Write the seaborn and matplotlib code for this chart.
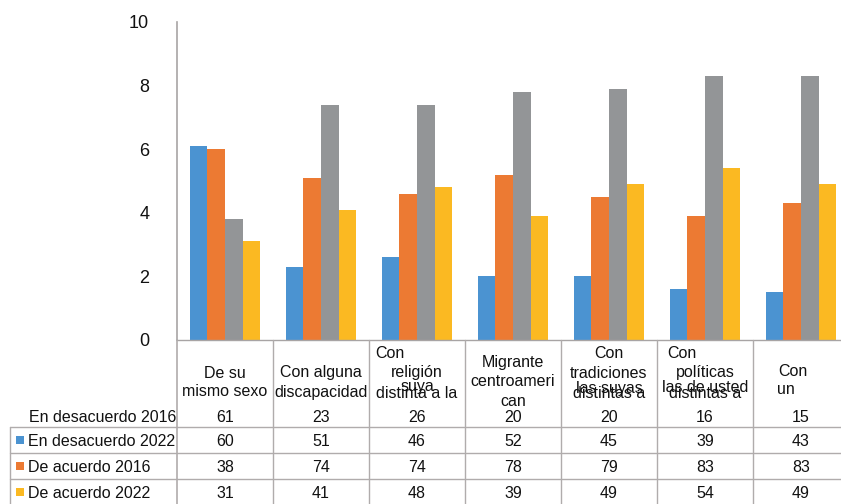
import matplotlib
matplotlib.use("Agg")
import matplotlib.pyplot as plt
import seaborn as sns
import pandas as pd

sns.set_theme(style="white")
plt.rcParams['font.family'] = ['Liberation Sans', 'DejaVu Sans']

categories = ["De su mismo sexo", "Con alguna discapacidad", "Con religión distinta a la suya",
              "Migrante centroamericano", "Con tradiciones distintas a las suyas",
              "Con políticas distintas a las de usted", "Con un"]
series = ["En desacuerdo 2016", "En desacuerdo 2022", "De acuerdo 2016", "De acuerdo 2022"]
en_desacuerdo_2016 = [61, 23, 26, 20, 20, 16, 15]
en_desacuerdo_2022 = [60, 51, 46, 52, 45, 39, 43]
de_acuerdo_2016 = [38, 74, 74, 78, 79, 83, 83]
de_acuerdo_2022 = [31, 41, 48, 39, 49, 54, 49]
yticks = [0, 2, 4, 6, 8, 10]

colors = ["#4b93d1", "#ec7a33", "#939597", "#fbb922"]

values = [en_desacuerdo_2016, en_desacuerdo_2022, de_acuerdo_2016, de_acuerdo_2022]
rows = []
for s, vals in zip(series, values):
    for c, v in zip(categories, vals):
        rows.append({"cat": c, "serie": s, "val": v / 10})
df = pd.DataFrame(rows)

W, H = 841, 504
fig = plt.figure(figsize=(W / 100, H / 100), dpi=100)
x0, x1, y0, y1 = 177, 849, 340, 22
ax = fig.add_axes([x0 / W, 1 - y0 / H, (x1 - x0) / W, (y0 - y1) / H])
sns.barplot(data=df, x="cat", y="val", hue="serie", palette=colors, width=0.73,
            saturation=1, ax=ax, legend=False, order=categories, hue_order=series,
            linewidth=0, edgecolor="none")
ax.set_xlim(-0.5, 6.5)
ax.set_ylim(0, 10)
ax.set_yticks(yticks)
ax.set_yticklabels([str(t) for t in yticks], fontsize=13, color="#111111")
ax.tick_params(axis="y", length=0, pad=20)
ax.set_xticks([])
ax.set_xlabel("")
ax.set_ylabel("")
for s in ["top", "right"]:
    ax.spines[s].set_visible(False)
ax.spines["left"].set_color("#a8a4a4")
ax.spines["bottom"].set_color("#a8a4a4")
ax.spines["left"].set_linewidth(1.2)
ax.spines["bottom"].set_linewidth(1.0)

# overlay for the data table (pixel coordinates)
ov = fig.add_axes([0, 0, 1, 1], facecolor="none")
ov.set_xlim(0, W)
ov.set_ylim(H, 0)
ov.axis("off")
lc = "#b0acac"
colw = 96
for i in range(7):
    xv = x0 + colw * i
    ov.plot([xv, xv], [340, H], color=lc, lw=1.0 if i else 1.2)
ov.plot([10, 10], [427, H], color=lc, lw=1.0)
for yh in [427, 453, 479]:
    ov.plot([10, W], [yh, yh], color=lc, lw=1.0)

fs = 11.5
hdr = [
    [("De su", 0, 373), ("mismo sexo", 0, 392)],
    [("Con alguna", 0, 373), ("discapacidad", 0, 392)],
    [("Con", -27, 353), ("religión", 0, 372), ("suya", 0, 387), ("distinta a la", 0, 393)],
    [("Migrante", 0, 363), ("centroameri", 0, 382), ("can", 0, 401)],
    [("Con", 0, 353), ("tradiciones", 0, 373), ("las suyas", 0, 388), ("distintas a", 0, 393)],
    [("Con", -23, 353), ("políticas", 0, 373), ("las de usted", 0, 388), ("distintas a", 0, 393)],
    [("Con", -8, 371), ("un", -15, 390)],
]
for i, lines in enumerate(hdr):
    cx = x0 + colw * (i + 0.5)
    for txt, dx, yy in lines:
        ov.text(cx + dx, yy, txt, ha="center", va="center", fontsize=fs, color="#111111")

row_y = [417, 441, 467, 493]
key_colors = [None, colors[0], colors[1], colors[3]]
for r, (lab, yy, kc) in enumerate(zip(series, row_y, key_colors)):
    if kc is None:
        ov.text(176, yy, lab, ha="right", va="center", fontsize=fs, color="#111111")
    else:
        ov.add_patch(plt.Rectangle((16, yy - 5), 8, 8, color=kc, lw=0))
        ov.text(28, yy, lab, ha="left", va="center", fontsize=fs, color="#111111")
    for i, v in enumerate(values[r]):
        cx = x0 + colw * (i + 0.5)
        ov.text(cx, yy, str(v), ha="center", va="center", fontsize=fs, color="#111111")

fig.savefig("out.png", dpi=100)
